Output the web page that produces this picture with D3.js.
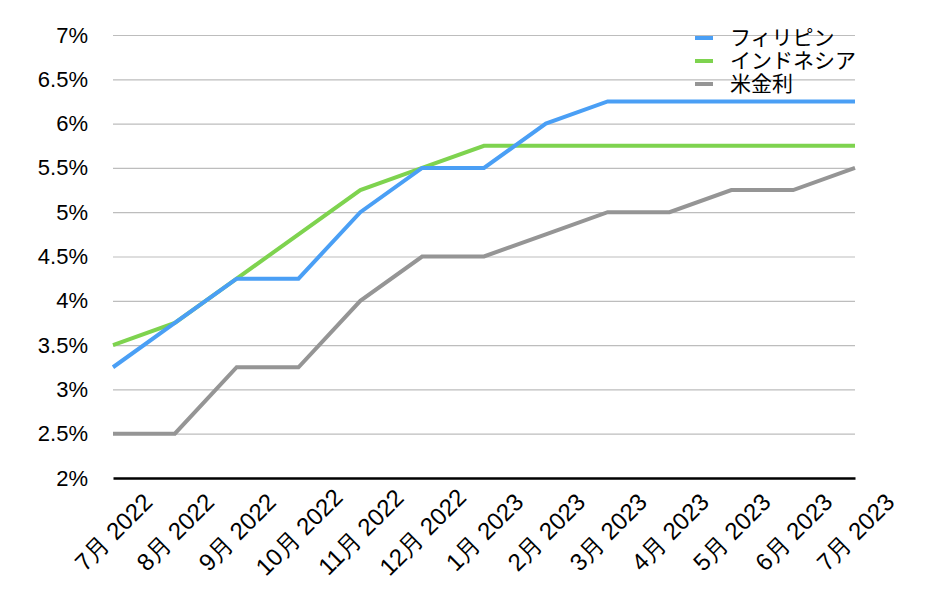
<!DOCTYPE html>
<html>
<head>
<meta charset="utf-8">
<script src="https://cdn.jsdelivr.net/npm/d3@7"></script>
<style>
  body { margin: 0; background: #fff; }
  svg { display: block; font-family: "Liberation Sans", "Noto Sans CJK JP", sans-serif; }
</style>
</head>
<body>
<svg width="934" height="608"></svg>
<script>
const width = 934, height = 608;
const svg = d3.select("svg");

// Data
const months = ["7月 2022", "8月 2022", "9月 2022", "10月 2022", "11月 2022", "12月 2022",
    "1月 2023", "2月 2023", "3月 2023", "4月 2023", "5月 2023", "6月 2023", "7月 2023"];
const philippines = [3.25, 3.75, 4.25, 4.25, 5.0, 5.5, 5.5, 6.0, 6.25, 6.25, 6.25, 6.25, 6.25];
const indonesia = [3.5, 3.75, 4.25, 4.75, 5.25, 5.5, 5.75, 5.75, 5.75, 5.75, 5.75, 5.75, 5.75];
const usRate = [2.5, 2.5, 3.25, 3.25, 4.0, 4.5, 4.5, 4.75, 5.0, 5.0, 5.25, 5.25, 5.5];
const yTicks = [2, 2.5, 3, 3.5, 4, 4.5, 5, 5.5, 6, 6.5, 7];

const series = [
    { name: "フィリピン", values: philippines, color: "#4a9ff5" },
    { name: "インドネシア", values: indonesia, color: "#7ed34f" },
    { name: "米金利", values: usRate, color: "#959595" }
];

const x = d3.scalePoint().domain(months).range([113, 855]);
const y = d3.scaleLinear().domain([2, 7]).range([478, 35]);

// Gridlines
svg.append("g")
    .attr("transform", "translate(113,0)")
    .call(d3.axisLeft(y).tickValues(yTicks.slice(1)).tickSize(-(855 - 113)).tickFormat(""))
    .call(g => g.select(".domain").remove())
    .call(g => g.selectAll("line").attr("stroke", "#bdbdbd").attr("stroke-width", 1.2));

// Y labels
svg.append("g")
    .attr("transform", "translate(88,0)")
    .call(d3.axisLeft(y).tickValues(yTicks).tickSize(0).tickPadding(0).tickFormat(d => d + "%"))
    .call(g => g.select(".domain").remove())
    .call(g => g.selectAll("text").attr("font-size", 22).attr("fill", "#000"));

// X axis
const xAxis = svg.append("g")
    .attr("transform", "translate(0,478)")
    .call(d3.axisBottom(x).tickSize(0).tickPadding(0));
xAxis.select(".domain").attr("stroke", "#000").attr("stroke-width", 2.5);
xAxis.selectAll("text")
    .attr("font-size", 24)
    .attr("fill", "#000")
    .attr("text-anchor", "middle")
    .attr("dy", "0.35em")
    .attr("transform", "translate(0,54) rotate(-45)");

// Lines (draw grey, then green, then blue on top)
const line = d3.line().x((d, i) => x(months[i])).y(d => y(d));
series.slice().reverse().forEach(s => {
    svg.append("path")
        .datum(s.values)
        .attr("fill", "none")
        .attr("stroke", s.color)
        .attr("stroke-width", 4)
        .attr("stroke-linejoin", "miter")
        .attr("d", line);
});

// Legend
const legend = svg.selectAll(".legend").data(series).enter().append("g")
    .attr("class", "legend")
    .attr("transform", (d, i) => `translate(695,${38 + i * 23})`);
legend.append("line").attr("x1", 0).attr("x2", 18)
    .attr("stroke", d => d.color).attr("stroke-width", 4);
legend.append("text").attr("x", 35).attr("dy", "0.35em")
    .attr("font-size", 21).text(d => d.name);
</script>
</body>
</html>
